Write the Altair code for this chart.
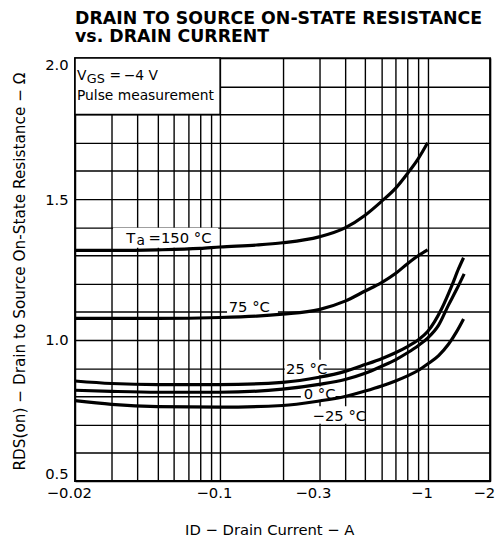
import altair as alt
import pandas as pd

# ---------------- data ----------------
series_names = ["150", "75", "25", "0", "-25"]

x150 = [0.02, 0.03, 0.05, 0.08, 0.1, 0.15, 0.2, 0.3, 0.4, 0.5, 0.6, 0.7, 0.8, 0.9, 1.0]
y150 = [1.318, 1.318, 1.32, 1.325, 1.33, 1.337, 1.345, 1.366, 1.398, 1.443, 1.492, 1.538, 1.591, 1.643, 1.70]

x75 = [0.02, 0.05, 0.1, 0.15, 0.2, 0.3, 0.4, 0.5, 0.6, 0.7, 0.8, 0.9, 1.0]
y75 = [1.077, 1.077, 1.08, 1.085, 1.092, 1.108, 1.138, 1.174, 1.204, 1.236, 1.271, 1.299, 1.32]

x25 = [0.02, 0.03, 0.05, 0.1, 0.2, 0.3, 0.4, 0.5, 0.6, 0.7, 0.8, 0.9, 1.0, 1.17, 1.31, 1.41, 1.49]
y25 = [0.855, 0.846, 0.842, 0.842, 0.850, 0.868, 0.889, 0.913, 0.934, 0.955, 0.977, 1.0, 1.03, 1.112, 1.194, 1.253, 1.292]

x0 = [0.02, 0.03, 0.05, 0.1, 0.2, 0.3, 0.4, 0.5, 0.6, 0.7, 0.8, 0.9, 1.0, 1.13, 1.26, 1.38, 1.5]
y0 = [0.822, 0.818, 0.815, 0.815, 0.826, 0.843, 0.86, 0.882, 0.907, 0.93, 0.955, 0.98, 1.007, 1.053, 1.124, 1.18, 1.235]

xm25 = [0.02, 0.03, 0.05, 0.1, 0.2, 0.3, 0.4, 0.5, 0.6, 0.7, 0.8, 0.9, 1.0, 1.13, 1.26, 1.38, 1.49]
ym25 = [0.785, 0.772, 0.764, 0.762, 0.768, 0.784, 0.80, 0.819, 0.837, 0.855, 0.873, 0.892, 0.915, 0.945, 0.985, 1.03, 1.075]

# axis grid / label values
x_grid = [0.02, 0.03, 0.04, 0.05, 0.06, 0.07, 0.08, 0.09, 0.1,
          0.2, 0.3, 0.4, 0.5, 0.6, 0.7, 0.8, 0.9, 1, 2]
x_label_at = [0.02, 0.1, 0.3, 1, 2]
y_grid = [0.5, 0.6, 0.7, 0.8, 0.9, 1.0, 1.1, 1.2, 1.3, 1.4, 1.5, 1.6, 1.7, 1.8, 1.9, 2.0]
y_label_at = [0.5, 1.0, 1.5, 2.0]

# annotation texts (data coordinates)
ann_text = ["V", "GS", "=\u2009\u22124 V", "Pulse measurement",
            "T", "a", "=150 \u00b0C", "75 \u00b0C", "25 \u00b0C", "0 \u00b0C", "\u221225 \u00b0C"]
ann_x = [0.02044, 0.0228, 0.0293, 0.02044, 0.0353, 0.0396, 0.0452, 0.110, 0.208, 0.253, 0.279]
ann_y = [1.923, 1.9126, 1.923, 1.8497, 1.346, 1.336, 1.346, 1.098, 0.881, 0.79, 0.713]
ann_fs = [14, 13, 14, 14, 15, 14, 15, 15, 15, 15, 15]

# white backgrounds behind labels
box_x1 = [0.0305, 0.108, 0.205, 0.245, 0.275]
box_x2 = [0.098, 0.19, 0.315, 0.36, 0.49]
box_y1 = [1.327, 1.096, 0.875, 0.786, 0.703]
box_y2 = [1.398, 1.15, 0.93, 0.835, 0.765]

# condition box (top-left)
cond_x = [0.02, 0.1]
cond_y = [1.8, 2.0]

title_lines = ["DRAIN TO SOURCE ON-STATE RESISTANCE", "vs. DRAIN CURRENT"]

# ---------------- build tables ----------------
rows = []
for name, xs, ys in zip(series_names, [x150, x75, x25, x0, xm25], [y150, y75, y25, y0, ym25]):
    for a, b in zip(xs, ys):
        rows.append({"series": name, "I": a, "R": b})
curves_df = pd.DataFrame(rows)
ann_df = pd.DataFrame({"t": ann_text, "I": ann_x, "R": ann_y, "fs": ann_fs})
box_df = pd.DataFrame({"I": box_x1, "I2": box_x2, "R": box_y1, "R2": box_y2})
cond_df = pd.DataFrame({"I": [cond_x[0]], "I2": [cond_x[1]], "R": [cond_y[0]], "R2": [cond_y[1]]})

FONT = "DejaVu Sans"

x_lab_expr = "indexof([" + ",".join(str(v) for v in x_label_at) + "], datum.value) >= 0 ? '\u2212' + datum.value : ''"
y_lab_expr = "indexof([" + ",".join(str(v) for v in y_label_at) + "], datum.value) >= 0 ? format(datum.value, '.1f') : ''"

x_enc = alt.X("I:Q",
              scale=alt.Scale(type="log", domain=[0.02, 2], nice=False),
              axis=alt.Axis(values=x_grid, labelExpr=x_lab_expr, labelOverlap=False,
                            labelFlush=False,
                            title="ID \u2212 Drain Current \u2212 A",
                            titleX=197, titleY=54, titleBaseline="alphabetic", titleAlign="center",
                            labelPadding=5, labelOffset=-6.3))
y_enc = alt.Y("R:Q",
              scale=alt.Scale(domain=[0.5, 2.0], nice=False, zero=False),
              axis=alt.Axis(values=y_grid, labelExpr=y_lab_expr, labelOverlap=False,
                            labelFlush=True, labelPadding=7,
                            title="RDS(on) \u2212 Drain to Source On-State Resistance \u2212 \u03a9",
                            titleX=-51, titleY=216, titleBaseline="alphabetic", titleAlign="center",
                            titleFontSize=15.5))

cond_layer = alt.Chart(cond_df).mark_rect(fill="white", stroke="black", strokeWidth=1.5).encode(
    x=x_enc, x2="I2:Q", y=y_enc, y2="R2:Q")

box_layer = alt.Chart(box_df).mark_rect(fill="white").encode(
    x=x_enc, x2="I2:Q", y=y_enc, y2="R2:Q")

curve_layer = alt.Chart(curves_df).mark_line(color="black", strokeWidth=3.2, interpolate="monotone").encode(
    x=x_enc, y=y_enc, detail="series:N", order="I:Q")

text_layer = alt.Chart(ann_df).mark_text(align="left", baseline="alphabetic", color="black", font=FONT).encode(
    x=x_enc, y=y_enc, text="t:N", size=alt.Size("fs:Q", scale=None))

chart = alt.layer(cond_layer, box_layer, curve_layer, text_layer).properties(
    width=421, height=429,
    autosize=alt.AutoSizeParams(type="none"),
    padding={"left": 68, "top": 47, "right": 6, "bottom": 58},
    title=alt.TitleParams(title_lines, anchor="start", frame="group",
                          font=FONT, fontSize=17.6, fontWeight="bold",
                          lineHeight=18, offset=12, color="black"),
).configure_view(
    stroke="black", strokeWidth=2
).configure_axis(
    domain=False, ticks=False, tickSize=0, grid=True, gridColor="black", gridWidth=1.4, gridOpacity=1,
    labelFont=FONT, labelFontSize=15, labelColor="black",
    titleFont=FONT, titleFontSize=15, titleFontWeight="normal", titleColor="black"
)

chart.save("out.html", embed_options={"renderer": "svg", "actions": False})
